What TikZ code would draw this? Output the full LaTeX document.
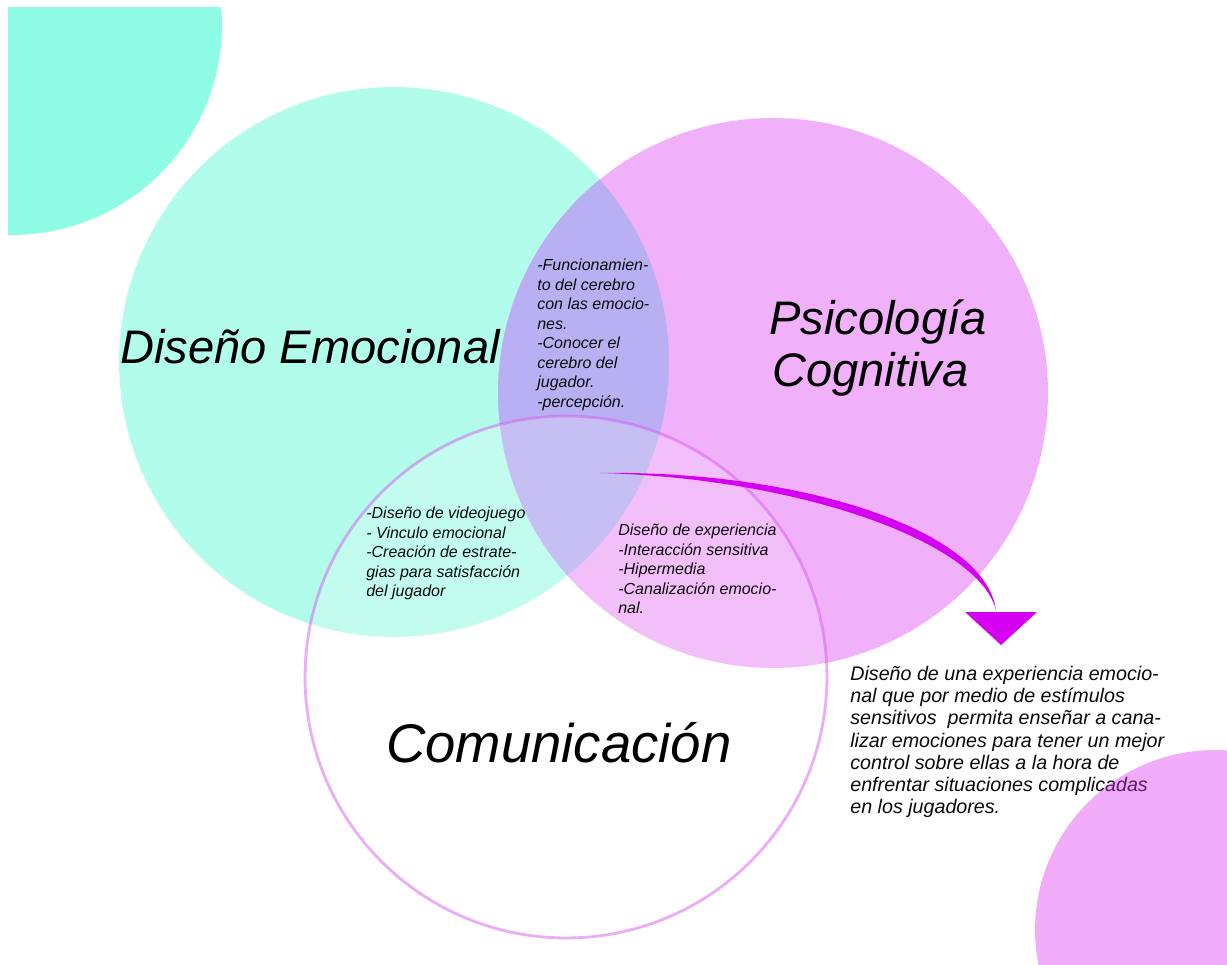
\documentclass[tikz,border=0pt]{standalone}
\usepackage{fontspec}
\setmainfont{Liberation Sans}
\usetikzlibrary{positioning}
\definecolor{emoteal}{HTML}{B2FCEC}
\definecolor{cornerteal}{HTML}{8FFDE6}
\definecolor{psicopink}{HTML}{F1B0FA}
\definecolor{mixpurple}{HTML}{B8B0F2}
\definecolor{comline}{HTML}{D65CEF}
\definecolor{arrowmag}{HTML}{D500F2}
\definecolor{cornerpink}{HTML}{DC31F4}
\definecolor{txt}{HTML}{0A0A0A}
\tikzstyle{venn}=[circle,inner sep=0,outer sep=0]
\tikzstyle{title}=[inner sep=0,text=black,font=\fontsize{26.8}{29.5}\selectfont\itshape]
\tikzstyle{note}=[inner sep=0,align=left,text=txt,font=\fontsize{9.1}{11.1}\selectfont\itshape]

\begin{document}
\begin{tikzpicture}[x=0.02cm,y=-0.02cm]
\useasboundingbox (0,0) rectangle (1227,964);
\fill[white] (0,0) rectangle (1227,964);
% corner decoration, top left
\begin{scope}
\clip (8,7) rectangle (1227,964);
\fill[cornerteal] (12,25) circle[radius=4.2cm];
\end{scope}
% the three sets
\node[venn,minimum size=11cm,fill=emoteal] (emo) at (394,362) {};
\node[venn,minimum size=11cm,fill=psicopink] (psi) at (773,393) {};
\begin{scope}
\clip (emo.center) circle[radius=5.5cm];
\fill[mixpurple] (psi.center) circle[radius=5.5cm];
\end{scope}
\node[venn,minimum size=10.44cm,fill=white,fill opacity=0.2,draw=comline,draw opacity=0.5,line width=1.6pt] (com) at (566,677) {};
% titles
\node[title,anchor=base west] (emotitle) at (120,363) {Diseño Emocional};
\node[title,anchor=base west] (psititle) at (769,334) {Psicología};
\node[title,anchor=base west] (cogtitle) at (772,386) {Cognitiva};
\node[title,font=\fontsize{31}{34}\selectfont\itshape,anchor=base west] (comtitle) at (386,762) {Comunicación};
% overlaps
\node[note,anchor=north west] (emopsi) at (537,259) {-Funcionamien-\\to del cerebro\\con las emocio-\\nes.\\-Conocer el\\cerebro del\\jugador.\\-percepción.};
\node[note,anchor=north west] (emocom) at (366,507) {-Diseño de videojuego\\- Vinculo emocional\\-Creación de estrate-\\gias para satisfacción\\del jugador};
\node[note,anchor=north west] (psicom) at (618,524) {Diseño de experiencia\\-Interacción sensitiva\\-Hipermedia\\-Canalización emocio-\\nal.};
\node[note,font=\fontsize{11.2}{12.6}\selectfont\itshape,anchor=north west] (result) at (850,666) {Diseño de una experiencia emocio-\\nal que por medio de estímulos\\sensitivos\ \ permita enseñar a cana-\\lizar emociones para tener un mejor\\control sobre ellas a la hora de\\enfrentar situaciones complicadas\\en los jugadores.};
% arrow from the centre to the result
\coordinate (tail) at (600,473);
\coordinate (head) at (996,610);
\fill[arrowmag] (tail) .. controls (800,470) and (985,530) .. (head) .. controls (978,541) and (797,478) .. (tail);
\coordinate (tipl) at (965,612);
\coordinate (tipr) at (1037,612);
\coordinate (tipb) at (1001,645);
\fill[arrowmag] (tipl) -- (tipr) -- (tipb) -- cycle;
% corner decoration, bottom right
\begin{scope}
\clip (0,0) rectangle (1227,964);
\fill[cornerpink,opacity=0.4] (1215,930) circle[radius=3.6cm];
\end{scope}
\end{tikzpicture}
\end{document}
